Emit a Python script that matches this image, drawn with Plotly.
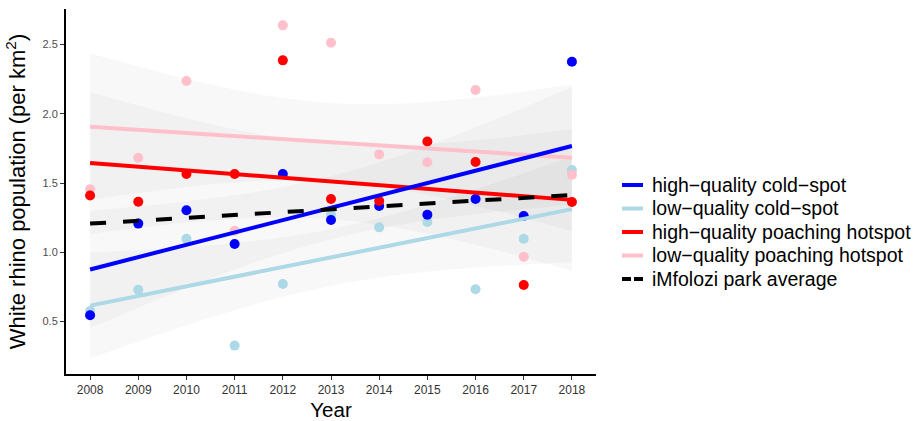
import numpy as np
import plotly.graph_objects as go

# Annual white rhino density (per km²) by habitat / poaching category
years = list(range(2008, 2019))
high_cold = [0.545, 1.207, 1.303, 1.060, 1.565, 1.233, 1.334, 1.271, 1.385, 1.262, 2.376]
low_cold = [0.576, 0.730, 1.098, 0.326, 0.771, 1.270, 1.180, 1.219, 0.733, 1.098, 1.594]
high_hot = [1.410, 1.365, 1.565, 1.565, 2.386, 1.385, 1.370, 1.800, 1.652, 0.764, 1.363]
low_hot = [1.455, 1.683, 2.237, 1.156, 2.639, 2.513, 1.707, 1.650, 2.172, 0.968, 1.560]

# Residual standard deviation behind each confidence band
band_sd = [0.333, 0.300, 0.401, 0.415]

# Park-wide average trend (fitted values at the ends of the study period)
park_years = [2008, 2018]
park_avg = [1.207, 1.414]

labels = [
    "high\u2212quality cold\u2212spot",
    "low\u2212quality cold\u2212spot",
    "high\u2212quality poaching hotspot",
    "low\u2212quality poaching hotspot",
]
park_label = "iMfolozi park average"
colors = ["#0000FF", "#ADD8E6", "#FF0000", "#FFC0CB"]
values = [high_cold, low_cold, high_hot, low_hot]

T_975_DF9 = 2.2622  # t quantile for a 95% band with n-2 = 9 df
FONT = "Liberation Sans, Arial, Helvetica, sans-serif"


def lm_fit(x, y, sd, grid):
    x = np.asarray(x, float)
    y = np.asarray(y, float)
    n = len(x)
    slope, intercept = np.polyfit(x, y, 1)
    sxx = np.sum((x - x.mean()) ** 2)
    fit = intercept + slope * grid
    se = sd * np.sqrt(1.0 / n + (grid - x.mean()) ** 2 / sxx)
    return fit, fit - T_975_DF9 * se, fit + T_975_DF9 * se


grid = np.linspace(min(years), max(years), 80)
fits = [lm_fit(years, v, sd, grid) for v, sd in zip(values, band_sd)]

fig = go.Figure()

# confidence ribbons
for fit, lo, hi in fits:
    fig.add_trace(go.Scatter(
        x=np.concatenate([grid, grid[::-1]]),
        y=np.concatenate([hi, lo[::-1]]),
        fill="toself", fillcolor="rgba(0,0,0,0.028)",
        line=dict(width=0), mode="lines", hoverinfo="skip", showlegend=False))

# observed points
for i in [1, 3, 0, 2]:
    fig.add_trace(go.Scatter(
        x=years, y=values[i], mode="markers", name=labels[i],
        marker=dict(color=colors[i], size=10, line=dict(width=0)),
        showlegend=False))

# fitted regression lines
for i in [3, 2, 0, 1]:
    fig.add_trace(go.Scatter(
        x=grid, y=fits[i][0], mode="lines", name=labels[i],
        line=dict(color=colors[i], width=4), showlegend=False))

fig.add_trace(go.Scatter(
    x=park_years, y=park_avg, mode="lines", name=park_label,
    line=dict(color="black", width=4, dash="16px,17px"), showlegend=False))

# key drawn beside the panel
x_l, y_b, w_px, h_px = 66, 374, 530, 365


def px_x(px):
    return (px - x_l) / w_px


def px_y(py):
    return (y_b - py) / h_px


shapes = []
annotations = []
key_rows = [185, 208.5, 232, 255.5, 279]
key_items = list(zip(labels, colors, ["solid"] * 4)) + [(park_label, "black", "9px,3px")]
for (text, col, dash), py in zip(key_items, key_rows):
    shapes.append(dict(type="line", xref="paper", yref="paper",
                       x0=px_x(622), x1=px_x(643), y0=px_y(py), y1=px_y(py),
                       line=dict(color=col, width=4, dash=dash)))
    annotations.append(dict(xref="paper", yref="paper", x=px_x(650), y=px_y(py),
                            text=text, showarrow=False, xanchor="left", yanchor="middle",
                            font=dict(size=19.5, family=FONT, color="black")))

fig.update_layout(
    width=920, height=421,
    margin=dict(l=66, r=324, t=9, b=47),
    plot_bgcolor="white", paper_bgcolor="white",
    font=dict(family=FONT, color="black"),
    showlegend=False,
    shapes=shapes, annotations=annotations,
    xaxis=dict(
        range=[2007.5, 2018.5], tickvals=years, ticktext=[str(y) for y in years],
        showgrid=False, zeroline=False, showline=True, linecolor="black", linewidth=2,
        ticks="outside", ticklen=4, tickcolor="#333333", tickwidth=1,
        tickfont=dict(size=12, color="#333333"), automargin=False,
        title=dict(text="Year", font=dict(size=20.5), standoff=6)),
    yaxis=dict(
        range=[0.121, 2.757], tickvals=[0.5, 1.0, 1.5, 2.0, 2.5],
        ticktext=["0.5", "1.0", "1.5", "2.0", "2.5"],
        showgrid=False, zeroline=False, showline=True, linecolor="black", linewidth=2,
        ticks="outside", ticklen=4, tickcolor="#333333", tickwidth=1,
        tickfont=dict(size=11, color="#4d4d4d"), automargin=False,
        title=dict(text="White rhino population (per km<sup>2</sup>)",
                   font=dict(size=22), standoff=11)),
)

fig.write_html("out.html")
